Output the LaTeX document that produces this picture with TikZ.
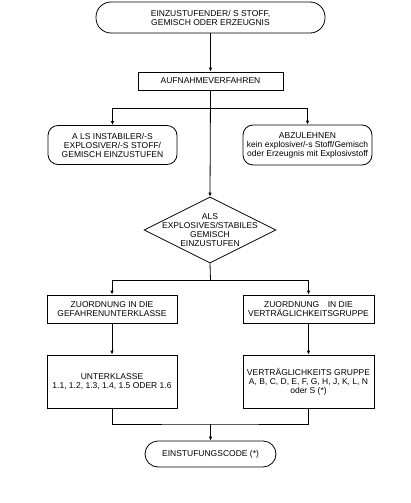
\documentclass[tikz,border=0pt]{standalone}
\usepackage{fontspec}
\setmainfont{Liberation Sans}
\usetikzlibrary{arrows.meta,shapes.geometric}

\begin{document}
\begin{tikzpicture}[x=1pt, y=-1pt, line width=0.8pt,
    font=\fontsize{8.5}{9}\selectfont]
    \tikzset{term/.style={draw, rounded corners=#1, align=center,
            inner sep=0pt},
        box/.style={draw, align=center, inner sep=0pt},
        decision/.style={draw, diamond, inner sep=0pt,
            minimum width=132pt, minimum height=66pt},
        arr/.style={-{Latex[length=4pt, width=3.5pt]}}
    }
    \useasboundingbox (0,0) rectangle (410,503);
    \node [term=15pt, minimum width=229pt, minimum height=31pt](start)
        at (210.5,17.5) {EINZUSTUFENDER/ S STOFF,\\GEMISCH ODER ERZEUGNIS};
    \node [box, minimum width=145pt, minimum height=18pt](aufn)
        at (210.5,81) {AUFNAHMEVERFAHREN};
    \node [term=10pt, minimum width=129pt, minimum height=39pt](instab)
        at (112.5,145) {A LS INSTABILER/-S\\EXPLOSIVER/-S STOFF/\\GEMISCH EINZUSTUFEN};
    \node [term=10pt, minimum width=129pt, minimum height=40pt](abl)
        at (307.5,145) {ABZULEHNEN\\kein explosiver/-s Stoff/Gemisch\\oder Erzeugnis mit Explosivstoff};
    \node [decision](dec) at (210,230) {};
    \node [align=center](dectext) at (dec.center)
        {ALS\\EXPLOSIVES/STABILES\\GEMISCH\\EINZUSTUFEN};
    \node [box, minimum width=130pt, minimum height=28pt](zuo1)
        at (112,309) {ZUORDNUNG IN DIE\\GEFAHRENUNTERKLASSE};
    \node [box, minimum width=131pt, minimum height=28pt](zuo2)
        at (308.5,309) {ZUORDNUNG\hspace{1em}IN DIE\\VERTRÄGLICHKEITSGRUPPE};
    \node [box, minimum width=130pt, minimum height=53pt](klasse)
        at (112,381.5) {UNTERKLASSE\\1.1, 1.2, 1.3, 1.4, 1.5 ODER 1.6};
    \node [box, minimum width=131pt, minimum height=53pt](gruppe)
        at (308.5,381.5) {VERTRÄGLICHKEITS GRUPPE\\A, B, C, D, E, F, G, H, J, K, L, N\\oder S (*)};
    \node [term=13pt, minimum width=131pt, minimum height=26pt](code)
        at (210.5,454) {EINSTUFUNGSCODE (*)};
    % branch points
    \coordinate (split1) at (210.5,108);
    \coordinate (split2) at (210.5,280);
    \coordinate (merge) at (210.5,424);
    % connectors
    \draw[arr] (start) -- (aufn);
    \draw[arr] (aufn.south) -- (dec.north);
    \foreach \target in {instab, abl} {
        \draw[arr] (split1) -| (\target.north);
    }
    \draw (dec.south) -- (split2);
    \foreach \target in {zuo1, zuo2} {
        \draw[arr] (split2) -| (\target.north);
    }
    \draw[arr] (zuo1) -- (klasse);
    \draw[arr] (zuo2) -- (gruppe);
    \draw (klasse.south) |- (merge) -| (gruppe.south);
    \draw[arr] (merge) -- (code);
\end{tikzpicture}
\end{document}
